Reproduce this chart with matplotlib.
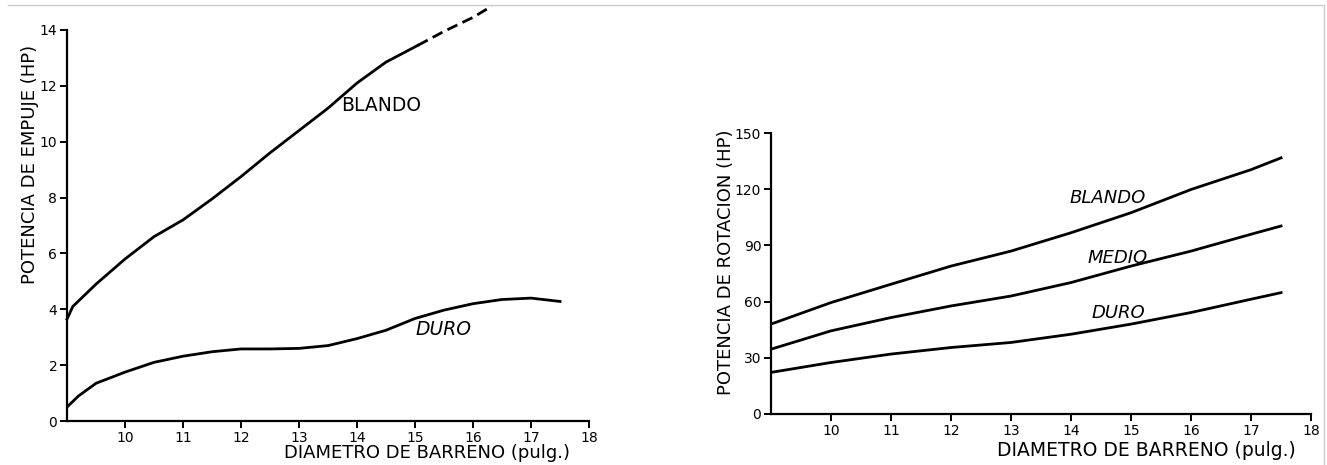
import matplotlib
matplotlib.use("Agg")
import matplotlib.pyplot as plt
from matplotlib.lines import Line2D

# left chart: potencia de empuje
emp_blando_x = [9, 9.1, 9.5, 10, 10.5, 11, 11.5, 12, 12.5, 13, 13.5, 14, 14.5, 15.05]
emp_blando_y = [3.65, 4.1, 4.9, 5.8, 6.6, 7.2, 7.95, 8.75, 9.6, 10.4, 11.2, 12.1, 12.85, 13.45]
emp_blando_dash_x = [15.05, 15.5, 16.0, 16.32]
emp_blando_dash_y = [13.45, 13.95, 14.45, 14.85]
emp_duro_x = [9, 9.2, 9.5, 10, 10.5, 11, 11.5, 12, 12.5, 13, 13.5, 14, 14.5, 15, 15.5, 16, 16.5, 17, 17.5]
emp_duro_y = [0.5, 0.9, 1.35, 1.75, 2.1, 2.32, 2.48, 2.58, 2.58, 2.6, 2.7, 2.95, 3.25, 3.67, 3.97, 4.2, 4.35, 4.4, 4.28]

# right chart: potencia de rotacion
rot_x = [9, 10, 11, 12, 13, 14, 15, 16, 17, 17.5]
rot_blando = [48, 59.5, 69.3, 79, 87, 96.8, 107.5, 119.9, 130.5, 136.8]
rot_medio = [34.6, 44.4, 51.5, 57.7, 63, 70.2, 79, 87, 96, 100.4]
rot_duro = [22.2, 27.5, 32, 35.5, 38.2, 42.6, 48, 54.2, 61.3, 64.8]

x_ticks = [10, 11, 12, 13, 14, 15, 16, 17, 18]
emp_ticks = [0, 2, 4, 6, 8, 10, 12, 14]
rot_ticks = [0, 30, 60, 90, 120, 150]

plt.rcParams['font.family'] = ['DejaVu Sans']
fig = plt.figure(figsize=(13.27, 4.65), dpi=100)

ax1 = fig.add_axes([0.0505, 0.0946, 0.3934, 0.841])
ax2 = fig.add_axes([0.581, 0.1097, 0.407, 0.604])

lw = 2.0
ax1.plot(emp_blando_x, emp_blando_y, color='black', lw=lw, clip_on=False)
ax1.plot(emp_blando_dash_x, emp_blando_dash_y, color='black', lw=lw, ls=(0, (4, 2)), clip_on=False)
ax1.plot(emp_duro_x, emp_duro_y, color='black', lw=lw)
ax1.set_ylim(0, 14)
ax1.set_yticks(emp_ticks)
ax1.text(13.73, 11.3, 'BLANDO', fontsize=13.5, va='center')
ax1.text(15.0, 3.27, 'DURO', fontsize=13.5, va='center', style='italic')
ax1.text(-0.071, 0.655, 'POTENCIA DE EMPUJE (HP)', transform=ax1.transAxes,
         rotation=90, ha='center', va='center', fontsize=13)
ax1.text(15.2, -1.16, 'DIAMETRO DE BARRENO (pulg.)', ha='center', va='center', fontsize=13)

ax2.plot(rot_x, rot_blando, color='black', lw=lw)
ax2.plot(rot_x, rot_medio, color='black', lw=lw)
ax2.plot(rot_x, rot_duro, color='black', lw=lw)
ax2.set_ylim(0, 150)
ax2.set_yticks(rot_ticks)
ax2.text(13.97, 115.5, 'BLANDO', fontsize=13, va='center', style='italic')
ax2.text(14.27, 83.5, 'MEDIO', fontsize=13, va='center', style='italic')
ax2.text(14.34, 54.2, 'DURO', fontsize=13, va='center', style='italic')
ax2.text(-0.083, 0.54, 'POTENCIA DE ROTACION (HP)', transform=ax2.transAxes,
         rotation=90, ha='center', va='center', fontsize=13)
ax2.text(15.25, -19.5, 'DIAMETRO DE BARRENO (pulg.)', ha='center', va='center', fontsize=13.5)

for ax in (ax1, ax2):
    ax.set_xlim(9, 18)
    ax.set_xticks(x_ticks)
    ax.spines['top'].set_visible(False)
    ax.spines['right'].set_visible(False)
    ax.spines['left'].set_linewidth(1.6)
    ax.spines['bottom'].set_linewidth(1.6)
    ax.tick_params(direction='out', length=5, width=1.4, labelsize=10, pad=2)

# faint scan border
fig.add_artist(Line2D([8 / 1327, 1324 / 1327], [1 - 5 / 465, 1 - 5 / 465],
                      color='#cccccc', lw=1))
fig.add_artist(Line2D([1324 / 1327, 1324 / 1327], [0, 1 - 5 / 465],
                      color='#cccccc', lw=1))

fig.savefig('out.png', dpi=100)
